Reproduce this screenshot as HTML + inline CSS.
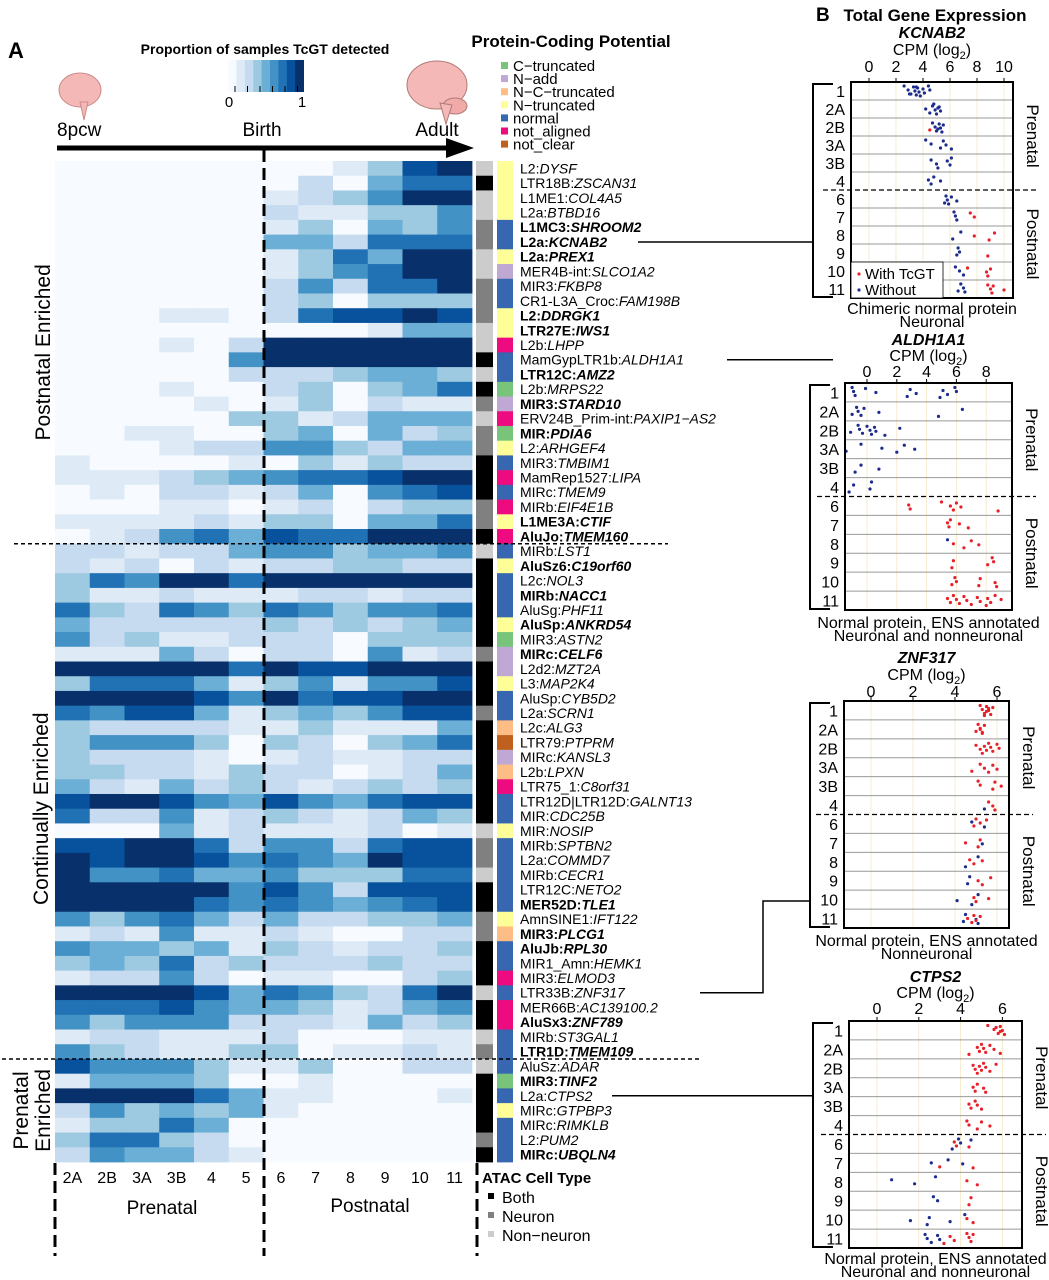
<!DOCTYPE html>
<html><head><meta charset="utf-8"><style>
html,body{margin:0;padding:0;background:#fff}
svg{display:block;font-family:"Liberation Sans",sans-serif}
</style></head><body>
<svg id="fig" width="1049" height="1280" viewBox="0 0 1049 1280" xmlns="http://www.w3.org/2000/svg">
<g id="hm"></g>
<g id="side"></g>
<g id="labs"></g>
<g id="top">
 <text x="8" y="58" font-size="22" font-weight="bold">A</text>
 <text x="265" y="54" font-size="14" font-weight="bold" text-anchor="middle">Proportion of samples TcGT detected</text>
 <g id="cbar"></g>
 <text x="229" y="107" font-size="15" text-anchor="middle">0</text>
 <text x="302" y="107" font-size="15" text-anchor="middle">1</text>
 <g><ellipse cx="80" cy="90" rx="21" ry="17" fill="#f4b8b6" stroke="#c98a88"/><path d="M80 102 L84 120 L88 102Z" fill="#f4b8b6" stroke="#c98a88"/></g>
 <g><ellipse cx="437" cy="85" rx="30" ry="24" fill="#f4b8b6" stroke="#b07a78"/><ellipse cx="455" cy="106" rx="12" ry="8" fill="#f0aaa8" stroke="#b07a78"/><path d="M440 103 L446 124 L452 105Z" fill="#f4b8b6" stroke="#b07a78"/></g>
 <text x="57" y="136" font-size="19">8pcw</text>
 <text x="262" y="136" font-size="19" text-anchor="middle">Birth</text>
 <text x="437" y="136" font-size="19" text-anchor="middle">Adult</text>
 <line x1="57" y1="148" x2="450" y2="148" stroke="#000" stroke-width="5"/>
 <path d="M446 138 L474 148 L446 158Z" fill="#000"/>
 <text x="571" y="47" font-size="17" font-weight="bold" text-anchor="middle">Protein-Coding Potential</text>
 <g id="plegend"></g>
</g>
<g id="bottom"></g>
<g id="right">
 <text x="816" y="21" font-size="19" font-weight="bold">B</text>
 <text x="935" y="21" font-size="17" font-weight="bold" text-anchor="middle">Total Gene Expression</text>
</g>
<g id="conn"></g>
</svg>
<script>
const NS='http://www.w3.org/2000/svg';
function mk(tag,attrs,parent,txt){const e=document.createElementNS(NS,tag);for(const k in attrs)e.setAttribute(k,attrs[k]);if(txt!==undefined)e.textContent=txt;parent.appendChild(e);return e;}
const $=id=>document.getElementById(id);

// ---- heatmap data ----
const stages=['2A','2B','3A','3B','4','5','6','7','8','9','10','11'];
const rowPrefix=['L2:','LTR18B:','L1ME1:','L2a:','L1MC3:','L2a:','L2a:','MER4B-int:','MIR3:','CR1-L3A_Croc:','L2:','LTR27E:','L2b:','MamGypLTR1b:','LTR12C:','L2b:','MIR3:','ERV24B_Prim-int:','MIR:','L2:','MIR3:','MamRep1527:','MIRc:','MIRb:','L1ME3A:','AluJo:','MIRb:','AluSz6:','L2c:','MIRb:','AluSg:','AluSp:','MIR3:','MIRc:','L2d2:','L3:','AluSp:','L2a:','L2c:','LTR79:','MIRc:','L2b:','LTR75_1:','LTR12D|LTR12D:','MIR:','MIR:','MIRb:','L2a:','MIRb:','LTR12C:','MER52D:','AmnSINE1:','MIR3:','AluJb:','MIR1_Amn:','MIR3:','LTR33B:','MER66B:','AluSx3:','MIRb:','LTR1D:','AluSz:','MIR3:','L2a:','MIRc:','MIRc:','L2:','MIRc:'];
const rowGene=['DYSF','ZSCAN31','COL4A5','BTBD16','SHROOM2','KCNAB2','PREX1','SLCO1A2','FKBP8','FAM198B','DDRGK1','IWS1','LHPP','ALDH1A1','AMZ2','MRPS22','STARD10','PAXIP1\u2212AS2','PDIA6','ARHGEF4','TMBIM1','LIPA','TMEM9','EIF4E1B','CTIF','TMEM160','LST1','C19orf60','NOL3','NACC1','PHF11','ANKRD54','ASTN2','CELF6','MZT2A','MAP2K4','CYB5D2','SCRN1','ALG3','PTPRM','KANSL3','LPXN','C8orf31','GALNT13','CDC25B','NOSIP','SPTBN2','COMMD7','CECR1','NETO2','TLE1','IFT122','PLCG1','RPL30','HEMK1','ELMOD3','ZNF317','AC139100.2','ZNF789','ST3GAL1','TMEM109','ADAR','TINF2','CTPS2','GTPBP3','RIMKLB','PUM2','UBQLN4'];
const rowBold=[0,0,0,0,1,1,1,0,0,0,1,1,0,0,1,0,1,0,1,0,0,0,0,0,1,1,0,1,0,1,0,1,0,1,0,0,0,0,0,0,0,0,0,0,0,0,0,0,0,0,1,0,1,1,0,0,0,0,1,0,1,0,1,0,0,0,0,1];
// detection proportion on a 0-8 scale (value/8 = proportion)
const detLevel=[
[0,0,0,0,0,0,0,0,1,3,7,8],[0,0,0,0,0,0,0,2,0,4,6,6],[0,0,0,0,0,0,1,2,3,5,8,8],[0,0,0,0,0,0,2,1,1,3,3,5],
[0,0,0,0,0,0,1,3,0,4,3,5],[0,0,0,0,0,0,4,4,2,6,6,6],[0,0,0,0,0,0,1,3,6,4,8,8],[0,0,0,0,0,0,1,3,5,6,8,8],
[0,0,0,0,0,0,2,5,2,6,6,8],[0,0,0,0,0,0,2,3,0,3,3,3],[0,0,0,1,1,0,2,6,7,7,8,7],[0,0,0,0,0,0,0,0,0,1,4,4],
[0,0,0,1,0,2,8,8,8,8,8,8],[0,0,0,0,0,5,8,8,8,8,8,8],[0,0,0,0,0,2,2,2,3,4,4,3],[0,0,0,1,0,0,2,3,0,3,4,6],
[0,0,0,0,1,0,1,3,0,2,1,1],[0,0,0,0,0,3,3,1,2,4,4,4],[0,0,1,1,0,0,3,4,0,4,2,3],[0,0,0,1,2,2,5,5,3,2,4,4],
[1,0,0,0,0,1,0,3,1,3,2,2],[1,1,1,2,3,4,5,6,6,7,8,8],[0,1,0,2,2,1,2,4,0,5,6,7],[0,0,0,1,1,0,1,2,0,2,3,3],
[1,1,1,1,2,1,3,3,0,4,4,6],[0,1,2,5,6,4,7,6,6,8,8,8],
[2,2,1,2,2,4,5,5,3,4,4,5],[2,1,2,0,2,1,2,2,3,3,2,2],[3,6,5,8,8,6,8,8,8,8,8,8],[3,1,1,2,1,1,1,2,2,1,2,2],
[6,3,2,6,5,3,6,5,3,5,5,6],[4,2,2,2,2,2,3,2,3,2,3,4],[5,2,3,1,1,2,2,2,0,3,3,3],[1,1,1,4,2,0,2,2,0,5,1,2],
[8,8,8,8,8,6,8,7,7,8,8,8],[3,6,6,6,4,1,3,5,1,5,5,7],[8,8,8,8,7,5,8,6,7,7,8,8],[6,5,7,7,4,1,3,4,3,5,7,7],
[3,2,2,2,2,1,1,3,1,1,1,4],[3,5,5,5,3,0,3,2,0,3,4,6],[3,2,2,2,1,0,1,2,1,1,2,2],[3,3,2,2,1,3,2,2,0,1,2,4],
[4,2,1,4,2,3,2,1,2,3,2,3],[7,8,8,7,5,4,7,5,4,6,7,7],[6,2,2,5,1,2,3,2,1,2,4,3],[0,0,0,4,1,2,1,1,1,2,0,1],
[7,7,8,8,6,2,5,5,2,6,7,7],[8,7,8,8,7,5,6,5,4,8,7,7],[8,5,5,6,4,4,5,3,3,3,6,6],[8,8,8,8,8,5,7,5,2,7,7,7],
[8,8,8,8,6,5,6,5,4,5,6,7],[5,3,5,6,4,2,4,2,2,3,3,4],[1,2,1,5,1,1,2,1,0,0,2,2],[5,4,4,3,4,1,3,2,1,2,2,3],
[3,4,3,6,2,3,2,2,2,3,2,2],[1,2,2,5,2,0,1,1,0,0,2,3],[8,8,8,8,7,4,6,5,3,2,6,8],[6,6,6,7,5,4,4,3,1,2,4,5],
[5,3,5,5,5,2,2,2,1,4,2,3],[1,2,2,1,1,1,2,0,0,0,1,1],[5,3,2,1,1,3,3,0,1,1,2,1],[7,5,5,5,3,1,1,3,0,0,2,2],
[1,4,4,4,3,0,0,1,0,0,0,0],[8,8,8,8,6,4,1,1,0,0,0,1],[2,5,3,4,3,4,1,0,0,0,0,0],[1,3,3,6,4,0,0,0,0,0,0,0],
[3,6,6,3,2,0,0,0,0,0,0,0],[2,5,4,4,2,1,0,0,0,0,0,0]];
const atacType=['O','B','O','O','N','N','O','O','N','N','N','O','O','B','O','B','N','O','N','N','B','B','B','N','N','B','O','B','B','B','B','B','B','N','B','B','B','N','B','B','B','B','B','B','B','O','N','N','O','B','B','N','N','B','B','B','O','B','B','O','N','O','B','B','B','B','N','B'];
const protType=['Y','Y','Y','Y','n','n','Y','A','n','n','Y','Y','P','n','n','C','A','P','C','Y','n','P','n','P','Y','P','n','Y','n','n','n','Y','C','A','A','Y','n','n','X','Q','A','X','P','n','n','Y','n','n','n','n','n','Y','X','n','n','P','n','P','P','n','n','n','C','n','Y','n','n','n'];

const blues=['#f7fbff','#deebf7','#c6dbef','#9ecae1','#6baed6','#4292c6','#2171b5','#08519c','#08306b'];
const colFill=v=>blues[Math.max(0,Math.min(8,Math.round(v)))];
const atacCol={B:'#000000',N:'#808080',O:'#cccccc'};
const protCol={C:'#77c47a',A:'#bfa8d3',X:'#fdbd84',Y:'#fefe99',n:'#3767b0',P:'#ee0a7f',Q:'#c0601f'};

const HX0=55,HX1=472,HY0=161,HY1=1162;
const nR=detLevel.length,nC=stages.length;
const cw=(HX1-HX0)/nC,rh=(HY1-HY0)/nR;
const xCol=i=>HX0+i*cw, yRow=r=>HY0+r*rh;

const hm=$('hm');
detLevel.forEach((row,r)=>row.forEach((v,c)=>{
  const e=mk('rect',{x:xCol(c).toFixed(2),y:yRow(r).toFixed(2),width:(cw+0.4).toFixed(2),height:(rh+0.4).toFixed(2),fill:colFill(v)},hm);
  
  
}));
const side=$('side');
atacType.forEach((t,r)=>{
  const e=mk('rect',{x:476,y:yRow(r).toFixed(2),width:17,height:(rh+0.4).toFixed(2),fill:atacCol[t]},side);
  
  
});
protType.forEach((t,r)=>{
  const e=mk('rect',{x:497,y:yRow(r).toFixed(2),width:16,height:(rh+0.4).toFixed(2),fill:protCol[t]},side);
  
  
});
const labs=$('labs');
rowGene.forEach((g,r)=>{
  const t=mk('text',{x:520,y:(yRow(r)+rh/2+5).toFixed(1),'font-size':14,'font-weight':rowBold[r]?'bold':'normal'},labs);
  
  
  mk('tspan',{},t,rowPrefix[r]);
  mk('tspan',{'font-style':'italic'},t,g);
});
mk('line',{x1:264,y1:150,x2:264,y2:1256,stroke:'#000','stroke-width':3,'stroke-dasharray':'12,6'},hm);
mk('line',{x1:14,y1:yRow(26),x2:668,y2:yRow(26),stroke:'#000','stroke-width':1.5,'stroke-dasharray':'4,3'},labs);
mk('line',{x1:2,y1:yRow(61),x2:700,y2:yRow(61),stroke:'#000','stroke-width':1.5,'stroke-dasharray':'4,3'},labs);
[['Postnatal Enriched',50,yRow(13)],['Continually Enriched',48,yRow(44)]].forEach(([s,x,y])=>{
  const t=mk('text',{x:x,y:y,'font-size':21,'text-anchor':'middle',transform:`rotate(-90 ${x} ${y})`},labs,s);
  
  
});
[['Prenatal',28],['Enriched',50]].forEach(([s,x])=>{
  const y=yRow(64.5);
  const t=mk('text',{x:x,y:y,'font-size':21,'text-anchor':'middle',transform:`rotate(-90 ${x} ${y})`},labs,s);
  
  
});
// colorbar
const cb=$('cbar');
for(let i=0;i<9;i++){mk('rect',{x:(228+i*8.4).toFixed(1),y:60,width:8.8,height:32,fill:blues[i]},cb);}
for(let i=0;i<6;i++){mk('line',{x1:235+i*12.5,y1:86,x2:235+i*12.5,y2:92,stroke:'#000'},cb);}
const plNames=[['C','C\u2212truncated'],['A','N\u2212add'],['X','N\u2212C\u2212truncated'],['Y','N\u2212truncated'],['n','normal'],['P','not_aligned'],['Q','not_clear']];
const pl=$('plegend');
plNames.forEach(([k,s],i)=>{
  const y=66+i*13.1;
  mk('rect',{x:501,y:y-4,width:7,height:7,fill:protCol[k]},pl);
  const t=mk('text',{x:513,y:y+5,'font-size':15},pl,s);
  
  
});
const bt=$('bottom');
stages.forEach((s,i)=>{
  const t=mk('text',{x:(xCol(i)+cw/2).toFixed(1),y:1183,'font-size':16,'text-anchor':'middle'},bt,s);
  
  
});
[55,477].forEach(x=>mk('line',{x1:x,y1:1163,x2:x,y2:1256,stroke:'#000','stroke-width':3,'stroke-dasharray':'12,6'},bt));
mk('text',{x:162,y:1214,'font-size':19,'text-anchor':'middle'},bt,'Prenatal');
mk('text',{x:370,y:1212,'font-size':19,'text-anchor':'middle'},bt,'Postnatal');
mk('text',{x:482,y:1183,'font-size':15,'font-weight':'bold'},bt,'ATAC Cell Type');
[['B','Both'],['N','Neuron'],['O','Non\u2212neuron']].forEach(([k,s],i)=>{
  const y=1197+i*19;
  mk('rect',{x:488,y:y-4,width:6,height:6,fill:atacCol[k]},bt);
  mk('text',{x:502,y:y+6,'font-size':16},bt,s);
});

// ---- panel B data: [stageIndex, log2CPM, withTcGT] ----
const dotStages=['1','2A','2B','3A','3B','4','6','7','8','9','10','11'];
const kcnab2=[[0,2.6,0],[0,2.9,0],[0,3.1,0],[0,3.3,0],[0,3.4,0],[0,3.5,0],[0,3.6,0],[0,3.7,0],[0,3.8,0],[0,4.0,0],[0,4.1,0],[0,4.4,0],[0,4.5,0],[0,3.0,0],[0,3.5,0],
[1,4.2,0],[1,4.5,0],[1,4.7,0],[1,4.9,0],[1,5.0,0],[1,5.2,0],[1,5.3,0],[1,4.8,0],[1,5.1,0],
[2,4.5,1],[2,4.7,0],[2,4.9,0],[2,5.0,0],[2,5.2,0],[2,5.3,0],[2,5.4,0],[2,5.5,0],[2,5.1,0],
[3,4.2,0],[3,4.6,0],[3,5.3,0],[3,5.5,0],[3,5.7,0],[3,6.1,0],[4,4.6,0],[4,5.0,0],[4,5.1,0],[4,5.8,0],[4,6.0,0],[4,6.1,0],
[5,4.4,0],[5,4.6,0],[5,4.8,0],[5,5.3,0],[6,5.6,0],[6,5.7,0],[6,5.8,0],[6,5.9,0],[6,6.1,0],[6,6.5,0],
[7,6.3,0],[7,6.4,0],[7,6.5,0],[7,7.5,1],[7,7.8,1],[8,6.2,0],[8,6.8,0],[8,7.8,1],[8,8.9,1],[8,9.3,1],
[9,6.5,0],[9,6.6,0],[9,6.7,0],[9,8.8,1],[10,6.4,0],[10,6.7,0],[10,7.0,0],[10,7.3,1],[10,8.7,1],[10,8.8,1],[10,9.0,1],
[11,6.6,0],[11,6.8,0],[11,7.0,0],[11,7.1,0],[11,8.8,1],[11,9.0,1],[11,9.1,1],[11,9.2,1],[11,10.0,1]];
const aldh1a1=[[0,-1.0,0],[0,-0.9,0],[0,-0.8,0],[0,-0.1,0],[0,0.6,0],[0,2.7,0],[0,2.9,0],[0,3.3,0],[0,4.9,0],[0,5.1,0],[0,5.4,0],[0,5.9,0],[0,6.0,0],
[1,-1.0,0],[1,-0.7,0],[1,-0.6,0],[1,-0.4,0],[1,-0.2,0],[1,0.8,0],[1,4.8,0],[1,6.4,0],
[2,-1.1,0],[2,-0.6,0],[2,-0.5,0],[2,-0.3,0],[2,0,0],[2,0.2,0],[2,0.3,0],[2,0.5,0],[2,0.6,0],[2,1.2,0],[2,2.2,0],
[3,-1.4,0],[3,-0.4,0],[3,1.0,0],[3,2.0,0],[3,2.5,0],[3,3.2,0],[4,-0.8,0],[4,-0.4,0],[4,0.8,0],[5,-1.2,0],[5,-0.9,0],[5,0.2,0],[5,0.3,0],
[6,2.8,1],[6,2.9,1],[6,5.0,1],[6,5.6,1],[6,5.8,1],[6,6.0,1],[6,6.3,1],[6,8.8,1],[7,5.4,1],[7,5.5,1],[7,5.6,1],[7,6.2,1],[7,6.8,1],
[8,5.4,0],[8,5.8,1],[8,6.5,1],[8,7.0,1],[8,7.5,1],[9,5.7,1],[9,5.8,1],[9,8.1,1],[9,8.4,1],[9,8.5,1],
[10,5.7,1],[10,5.9,1],[10,6.0,1],[10,7.5,1],[10,7.6,1],[10,8.6,1],[10,8.7,1],
[11,5.4,1],[11,5.6,1],[11,5.8,1],[11,6.0,1],[11,6.2,1],[11,6.5,1],[11,6.7,1],[11,7.0,1],[11,7.4,1],[11,7.6,1],[11,8.0,1],[11,8.1,1],[11,8.3,1],[11,8.6,1],[11,9.0,1]];
const znf317=[[0,5.2,1],[0,5.3,1],[0,5.4,1],[0,5.5,1],[0,5.6,1],[0,5.7,1],[0,5.8,1],[0,5.5,1],[0,5.4,1],[0,5.6,1],
[1,5.0,1],[1,5.1,1],[1,5.2,1],[1,5.3,1],[1,5.4,1],[1,5.2,1],[1,5.3,1],
[2,5.0,1],[2,5.2,1],[2,5.3,1],[2,5.4,1],[2,5.5,1],[2,5.6,1],[2,5.7,1],[2,5.8,1],[2,6.0,1],[2,6.1,1],
[3,4.8,1],[3,5.2,1],[3,5.4,1],[3,5.6,1],[3,5.8,1],[3,6.0,1],[4,5.1,1],[4,5.2,1],[4,5.8,1],[4,5.9,1],[4,6.2,1],
[5,5.4,0],[5,5.6,1],[5,5.8,1],[5,5.9,1],[6,4.8,0],[6,4.9,1],[6,5.0,1],[6,5.2,1],[6,5.4,0],[6,5.5,1],
[7,4.5,1],[7,5.1,1],[7,5.2,1],[7,5.3,0],[8,4.5,0],[8,4.7,1],[8,4.9,1],[8,5.1,0],[8,5.3,1],
[9,4.6,0],[9,4.7,0],[9,5.1,1],[9,5.3,1],[9,5.7,1],[10,4.1,0],[10,4.8,0],[10,4.9,1],[10,5.0,1],[10,5.1,0],[10,5.6,1],
[11,4.4,0],[11,4.5,0],[11,4.6,1],[11,4.8,1],[11,4.9,1],[11,5.0,0],[11,5.1,0],[11,5.2,1],[11,5.0,1]];
const ctps2=[[0,5.3,1],[0,5.6,1],[0,5.8,1],[0,5.9,1],[0,6.0,1],[0,6.1,1],[0,5.7,1],[0,5.9,1],
[1,4.4,1],[1,4.8,1],[1,4.9,1],[1,5.0,1],[1,5.1,1],[1,5.2,1],[1,5.4,1],[1,5.6,1],[1,5.9,1],
[2,4.6,1],[2,4.7,1],[2,4.8,1],[2,4.9,1],[2,5.0,1],[2,5.1,1],[2,5.2,1],[2,5.4,1],[2,5.7,1],
[3,4.6,1],[3,4.7,1],[3,4.8,1],[3,5.1,1],[3,5.2,1],[4,4.4,1],[4,4.5,1],[4,4.7,1],[4,4.8,1],[4,5.0,1],
[5,4.3,1],[5,4.4,1],[5,4.8,1],[5,5.0,1],[5,5.4,1],
[6,3.6,0],[6,3.7,1],[6,3.8,1],[6,3.9,0],[6,4.0,0],[6,4.4,1],[6,4.5,0],[7,2.6,0],[7,3.0,1],[7,3.4,0],[7,4.1,0],[7,4.6,1],
[8,0.7,0],[8,1.8,0],[8,2.8,0],[8,4.3,1],[8,4.8,1],[9,2.7,0],[9,2.9,0],[9,4.4,1],[9,4.5,1],
[10,1.6,0],[10,2.4,0],[10,2.5,0],[10,3.5,0],[10,4.2,0],[10,4.3,1],[10,4.6,1],
[11,2.3,0],[11,2.4,0],[11,2.6,0],[11,2.9,0],[11,3.0,0],[11,3.2,1],[11,3.5,1],[11,3.7,1],[11,4.3,1],[11,4.4,1],[11,4.5,1],[11,4.6,1]];
const p1Ticks=[0,2,4,6,8,10], p2Ticks=[0,2,4,6,8], p3Ticks=[0,2,4,6], p4Ticks=[0,2,4,6];

const panels=[
 {name:'kcnab2',gene:'KCNAB2',data:kcnab2,ticks:p1Ticks,x0:851,x1:1013,y0:82,y1:298,z:869,u:13.5,ty:[38,55,72],cap:['Chimeric normal protein','Neuronal'],capY:[314,327],bx:813,legend:true},
 {name:'aldh1a1',gene:'ALDH1A1',data:aldh1a1,ticks:p2Ticks,x0:845,x1:1012,y0:383,y1:610,z:867,u:14.9,ty:[345,361,377],cap:['Normal protein, ENS annotated','Neuronal and nonneuronal'],capY:[628,641],bx:810},
 {name:'znf317',gene:'ZNF317',data:znf317,ticks:p3Ticks,x0:844,x1:1009,y0:701,y1:928,z:871,u:21,ty:[663,680,697],cap:['Normal protein, ENS annotated','Nonneuronal'],capY:[946,959],bx:810},
 {name:'ctps2',gene:'CTPS2',data:ctps2,ticks:p4Ticks,x0:849,x1:1022,y0:1021,y1:1248,z:877,u:20.9,ty:[982,998,1014],cap:['Normal protein, ENS annotated','Neuronal and nonneuronal'],capY:[1264,1277],bx:813}];
const R=$('right');
panels.forEach(p=>{
  const g=mk('g',{},R);
  
  
  const xs=v=>p.z+v*p.u;
  const prh=(p.y1-p.y0)/12;
  const ys=i=>p.y0+(i+0.5)*prh;
  const cx=(p.x0+p.x1)/2;
  mk('text',{x:cx,y:p.ty[0],'font-size':16,'font-weight':'bold','font-style':'italic','text-anchor':'middle'},g,p.gene);
  const t=mk('text',{x:cx,y:p.ty[1],'font-size':16,'text-anchor':'middle'},g,'CPM (log');
  mk('tspan',{'font-size':11,dy:4},t,'2');mk('tspan',{dy:-4},t,')');
  p.ticks.forEach(v=>{
    mk('line',{x1:xs(v),y1:p.y0,x2:xs(v),y2:p.y1,stroke:'#f3e7c4','stroke-width':0.8},g);
    mk('line',{x1:xs(v),y1:p.y0-4,x2:xs(v),y2:p.y0,stroke:'#000'},g);
    const tt=mk('text',{x:xs(v),y:p.ty[2],'font-size':16,'text-anchor':'middle'},g,String(v));
    
    
  });
  for(let i=1;i<12;i++){ if(i===6) continue; mk('line',{x1:p.x0,y1:p.y0+i*prh,x2:p.x1,y2:p.y0+i*prh,stroke:'#999','stroke-width':1},g);}
  mk('line',{x1:p.x0-28,y1:p.y0+6*prh,x2:p.x1+24,y2:p.y0+6*prh,stroke:'#000','stroke-width':1.3,'stroke-dasharray':'5,3'},g);
  dotStages.forEach((s,i)=>{const l=mk('text',{x:p.x0-6,y:ys(i)+6,'font-size':16,'text-anchor':'end'},g,s);
    
    });
  p.data.forEach((d,k)=>{
    const jit=((k*37)%11-5)*1.0;
    const c=mk('circle',{cx:xs(d[1]).toFixed(1),cy:(ys(d[0])+jit).toFixed(1),r:1.6,fill:d[2]?'#e8202a':'#1c2c8c'},g);
    
    
  });
  mk('rect',{x:p.x0,y:p.y0,width:p.x1-p.x0,height:p.y1-p.y0,fill:'none',stroke:'#000','stroke-width':2},g);
  const rx=p.x1+14;
  [['Prenatal',p.y0+3*prh],['Postnatal',p.y0+9*prh]].forEach(([s,y])=>{
    mk('text',{x:rx,y:y,'font-size':17,'text-anchor':'middle',transform:`rotate(90 ${rx} ${y})`},g,s);
  });
  p.cap.forEach((s,i)=>mk('text',{x:cx,y:p.capY[i],'font-size':16,'text-anchor':'middle'},g,s));
  mk('path',{d:`M${p.bx+20} ${p.y0+2} H${p.bx} V${p.y1-1} H${p.bx+20}`,fill:'none',stroke:'#000','stroke-width':2},g);
  if(p.legend){
    mk('rect',{x:p.x0,y:p.y1-36,width:92,height:36,fill:'#fff',stroke:'#000','stroke-width':0.8},g);
    mk('circle',{cx:p.x0+8,cy:p.y1-24,r:1.6,fill:'#e8202a'},g);
    mk('text',{x:p.x0+14,y:p.y1-19,'font-size':15},g,'With TcGT');
    mk('circle',{cx:p.x0+8,cy:p.y1-8,r:1.6,fill:'#1c2c8c'},g);
    mk('text',{x:p.x0+14,y:p.y1-3,'font-size':15},g,'Without');
  }
});
const C=$('conn');
const yc=r=>yRow(r)+rh/2;
mk('line',{x1:638,y1:yc(5),x2:813,y2:yc(5),stroke:'#000','stroke-width':1.5},C);
mk('line',{x1:727,y1:yc(13),x2:833,y2:yc(13),stroke:'#000','stroke-width':1.5},C);
mk('path',{d:`M700 ${yc(56)} H763 V901 H810`,fill:'none',stroke:'#000','stroke-width':1.5},C);
mk('line',{x1:612,y1:yc(63),x2:813,y2:yc(63),stroke:'#000','stroke-width':1.5},C);
</script>
</body></html>
